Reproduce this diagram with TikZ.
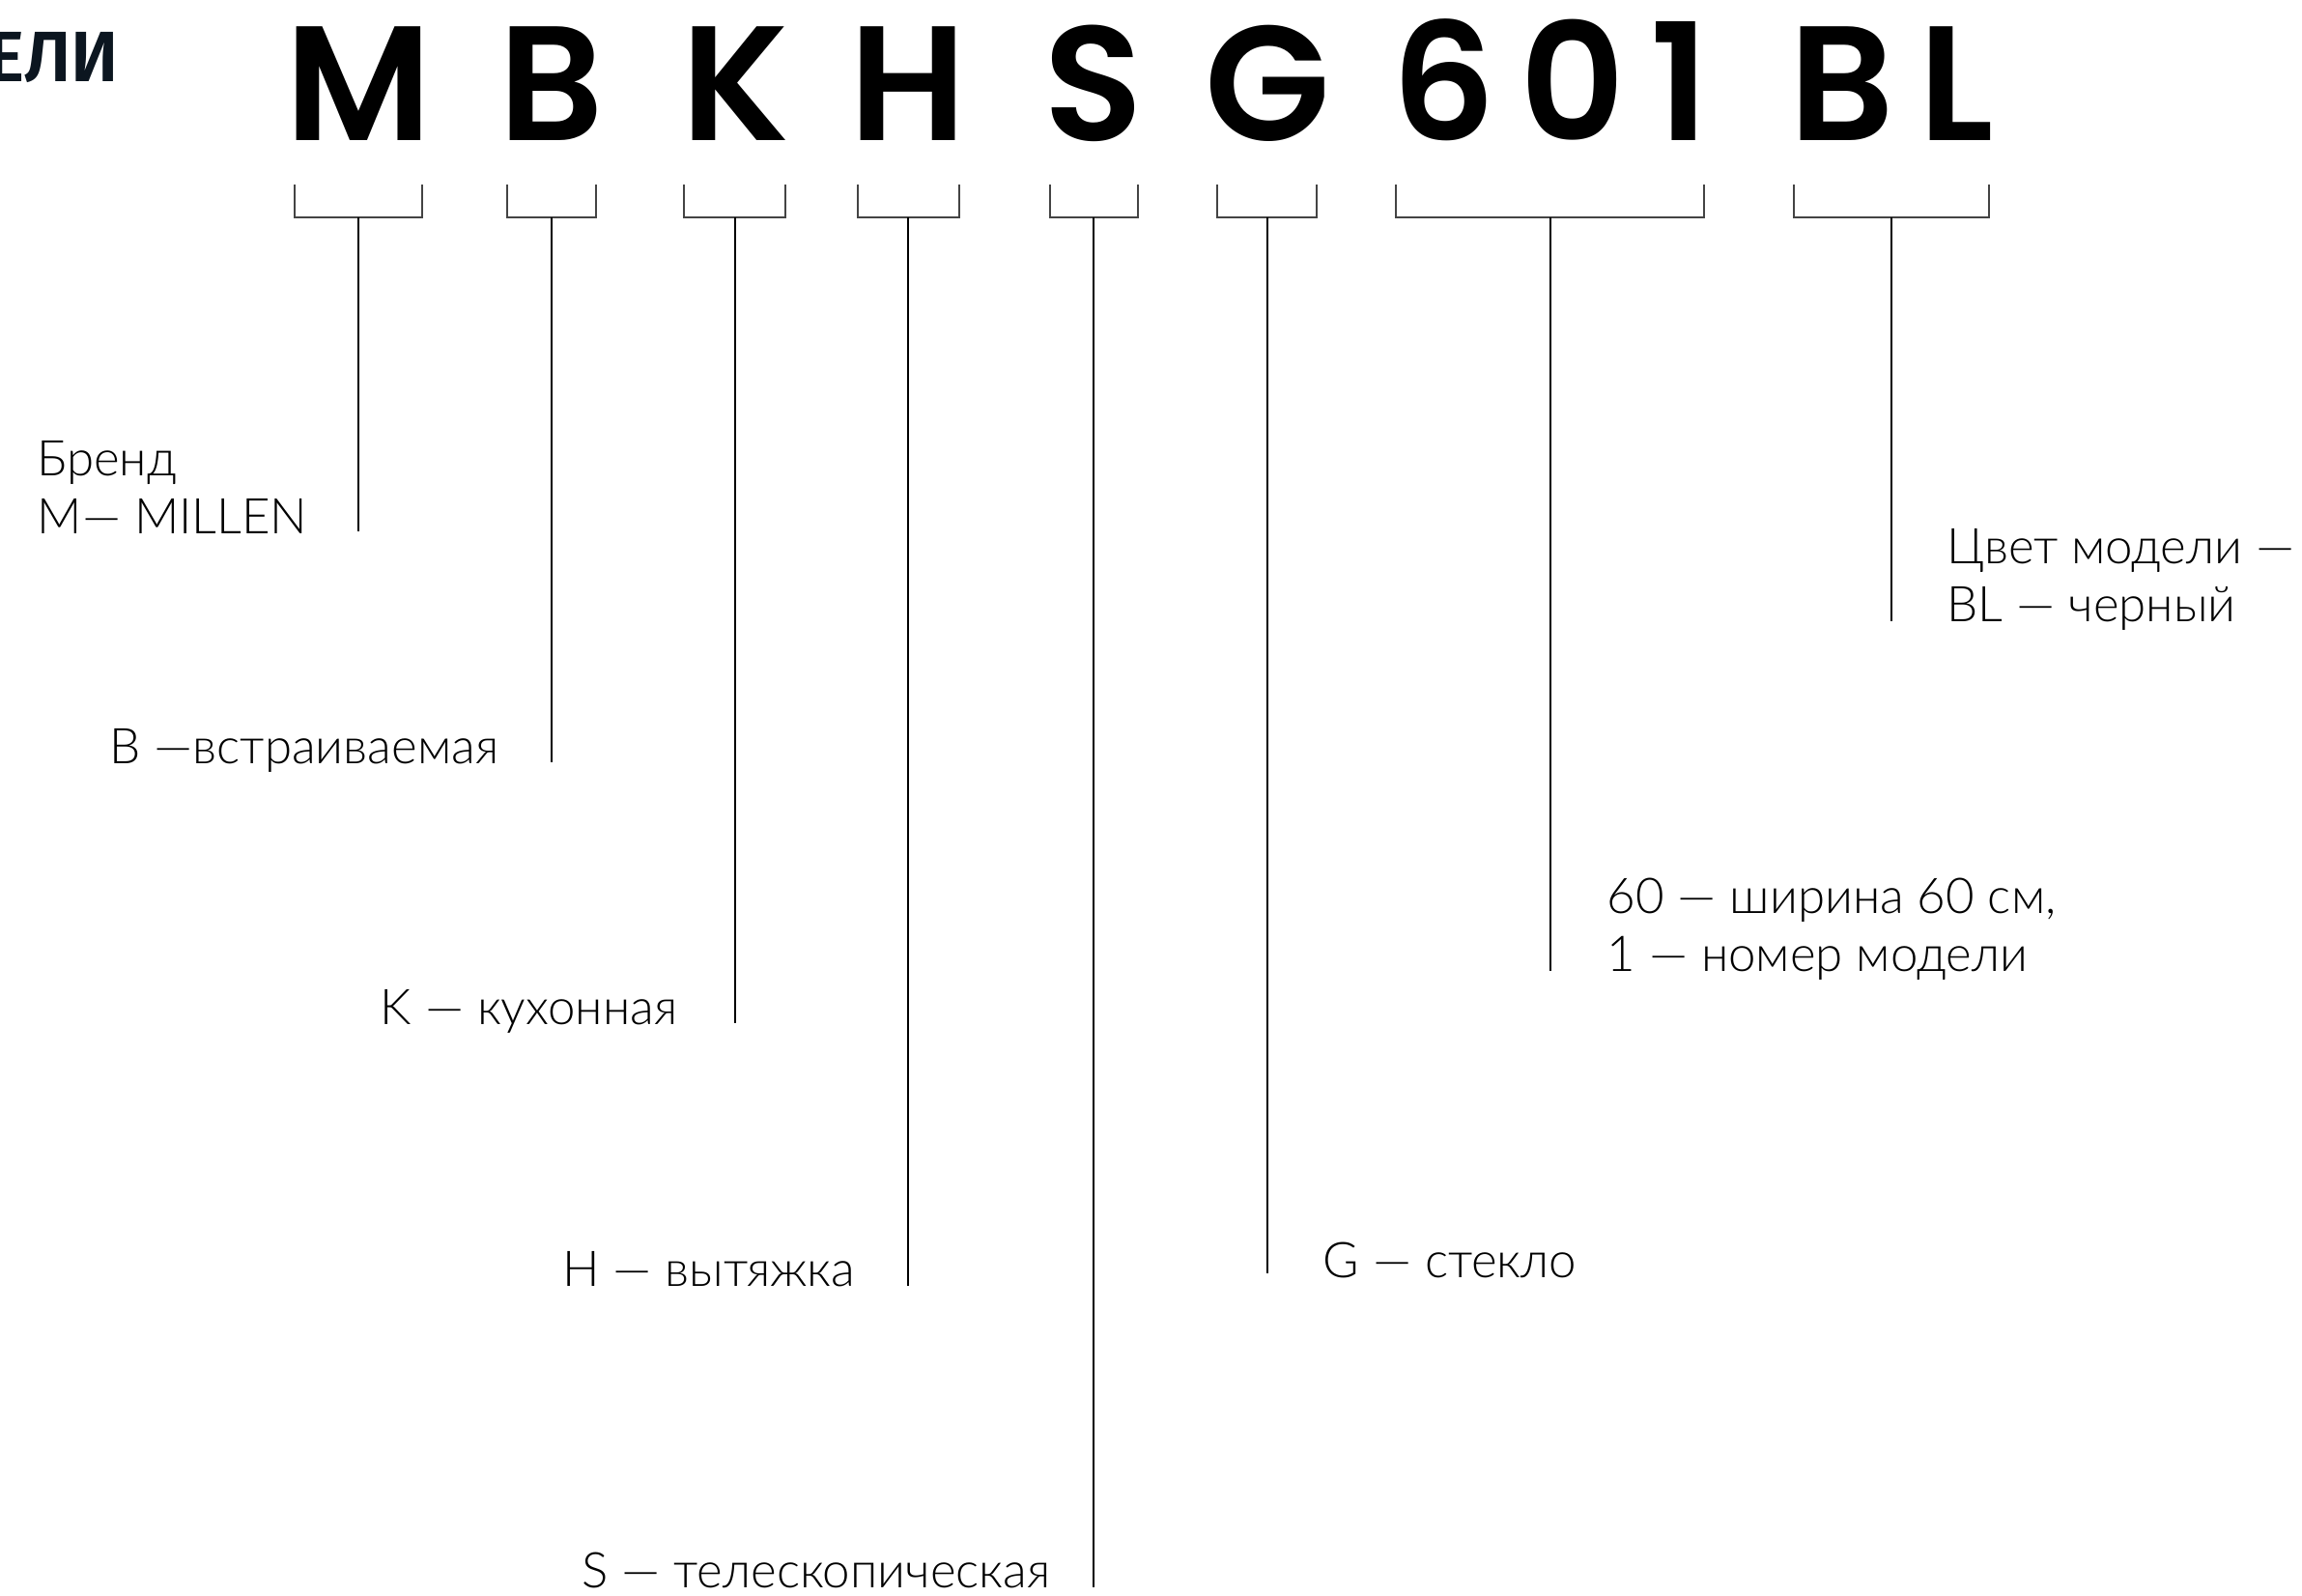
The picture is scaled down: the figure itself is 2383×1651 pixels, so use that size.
\documentclass[tikz,border=0pt]{standalone}
\usepackage{fontspec}
\setmainfont{Lato}[UprightFont={* Light}]
\newfontfamily\codefont{Poppins}[UprightFont={* SemiBold}, LetterSpace=15]
\newfontfamily\headfont{Fira Sans}[UprightFont={* SemiBold}]
\usetikzlibrary{calc}
\definecolor{headnavy}{RGB}{12,22,32}
\definecolor{brkgrey}{RGB}{68,68,68}

\begin{document}
\begin{tikzpicture}[x=0.01cm, y=-0.01cm,
  code/.style={font=\codefont\fontsize{48}{48}\selectfont, anchor=base, inner sep=0pt},
  lab/.style={font=\fontsize{14.5}{16.8}\selectfont, inner sep=0pt, align=left},
  brk/.style={draw=brkgrey, line width=0.6pt},
  stem/.style={draw=black, line width=0.6pt}]

\useasboundingbox (0,0) rectangle (2383,1651);
\clip (0,0) rectangle (2383,1651);

% heading, cut off by the left edge
\node[font=\headfont\fontsize{21}{21}\selectfont, text=headnavy, anchor=base east, inner sep=0pt] (head) at (124,84) {ЕЛИ};

% the model code
\node[code] (cM) at (371,145) {M};
\node[code] (cB) at (571,145) {B};
\node[code] (cK) at (761,145) {K};
\node[code] (cH) at (940,145) {H};
\node[code] (cS) at (1132,145) {S};
\node[code] (cG) at (1312,145) {G};
\node[code] (c601) at (1605,145) {601};
\node[code] (cBL) at (1958,145) {BL};

% brackets under each part
\draw[brk] (305,191) |- (437,225) -- (437,191);
\draw[brk] (525,191) |- (617,225) -- (617,191);
\draw[brk] (708,191) |- (813,225) -- (813,191);
\draw[brk] (888,191) |- (993,225) -- (993,191);
\draw[brk] (1087,191) |- (1178,225) -- (1178,191);
\draw[brk] (1260,191) |- (1363,225) -- (1363,191);
\draw[brk] (1445,191) |- (1764,225) -- (1764,191);
\draw[brk] (1857,191) |- (2059,225) -- (2059,191);

\coordinate (sM) at (371,225);   \coordinate (eM) at (371,550);
\coordinate (sB) at (571,225);   \coordinate (eB) at (571,789);
\coordinate (sK) at (761,225);   \coordinate (eK) at (761,1059);
\coordinate (sH) at (940,225);   \coordinate (eH) at (940,1331);
\coordinate (sS) at (1132,225);  \coordinate (eS) at (1132,1643);
\coordinate (sG) at (1312,225);  \coordinate (eG) at (1312,1318);
\coordinate (s601) at (1605,225); \coordinate (e601) at (1605,1005);
\coordinate (sBL) at (1958,225); \coordinate (eBL) at (1958,643);

\draw[stem] (sM) -- (eM);
\draw[stem] (sB) -- (eB);
\draw[stem] (sK) -- (eK);
\draw[stem] (sH) -- (eH);
\draw[stem] (sS) -- (eS);
\draw[stem] (sG) -- (eG);
\draw[stem] (s601) -- (e601);
\draw[stem] (sBL) -- (eBL);

% labels at the stem ends (base = last line)
\node[lab, anchor=base west] (tM) at (38,552) {Бренд\\M— MILLEN};
\node[lab, anchor=base east] (tB) at ($(eB)+(-54,1)$) {B —встраиваемая};
\node[lab, anchor=base east] (tK) at ($(eK)+(-59,1)$) {K — кухонная};
\node[lab, anchor=base east] (tH) at ($(eH)+(-54,0)$) {H — вытяжка};
\node[lab, anchor=base east] (tS) at ($(eS)+(-44,0)$) {S — телескопическая};
\node[lab, anchor=base west] (tG) at ($(eG)+(57,4)$) {G — стекло};
\node[lab, anchor=base west] (t601) at ($(e601)+(58,0)$) {60 — ширина 60 см,\\1 — номер модели};
\node[lab, anchor=base west] (tBL) at ($(eBL)+(57,0)$) {Цвет модели —\\BL — черный};
\end{tikzpicture}
\end{document}
